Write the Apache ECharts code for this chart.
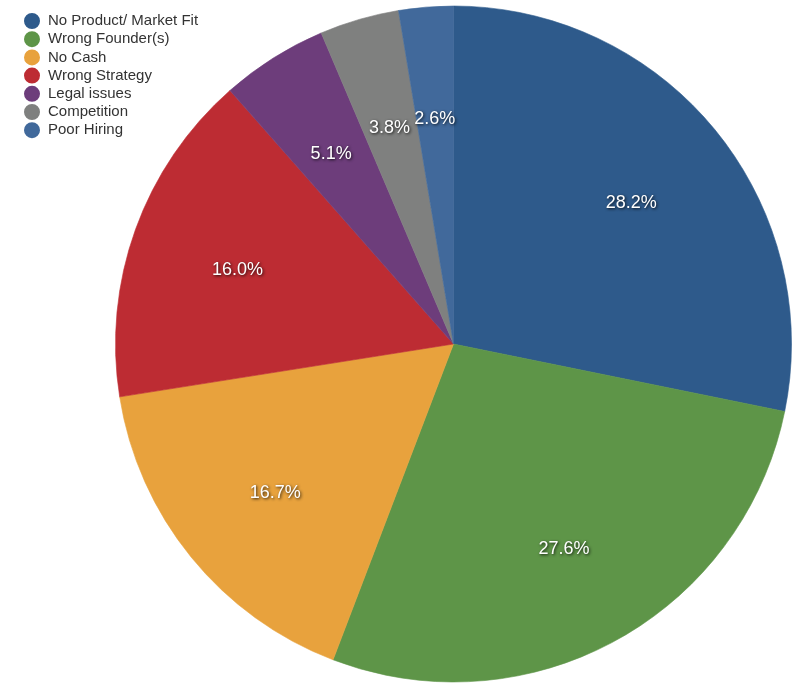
<!DOCTYPE html>
<html>
<head>
<meta charset="utf-8">
<script src="https://cdn.jsdelivr.net/npm/echarts@6/dist/echarts.min.js"></script>
<style>
    html, body { margin: 0; padding: 0; background: #fff; }
    #chart { width: 800px; height: 690px; }
</style>
</head>
<body>
<div id="chart"></div>
<script>
var categories = ["No Product/ Market Fit", "Wrong Founder(s)", "No Cash", "Wrong Strategy", "Legal issues", "Competition", "Poor Hiring"];
var shares = [28.2, 27.6, 16.7, 16.0, 5.1, 3.8, 2.6];
var sliceColors = ["#2e5a8b", "#5e9548", "#e8a23d", "#bd2c33", "#6d3d7b", "#7f807f", "#41699b"];

var myChart = echarts.init(document.getElementById("chart"));

function getData(withBorder){
    var data = [];
    for(var i = 0; i < categories.length; i++){
        var item = { name: categories[i], value: shares[i] };
        if(withBorder){//same-colour border hides the white seams
            item.itemStyle = { borderColor: sliceColors[i], borderWidth: 0.6 };
        }
        data.push(item);
    }
    return data;
}

var option = {
    color: sliceColors,
    animation: false,
    legend: {
        orient: 'vertical',
        left: 19,
        top: 8,
        icon: 'circle',
        itemWidth: 14,
        itemHeight: 14,
        itemGap: 2.2,
        textStyle: {
            color: '#333',
            fontSize: 15,
            padding: [0, 0, 0, 4],
            fontFamily: 'Helvetica, Arial, "Liberation Sans", sans-serif'
        },
        data: categories
    },
    series: [{
        type: 'pie',
        center: [453.5, 344],
        radius: 338,
        startAngle: 90,
        clockwise: true,
        silent: true,
        label: { show: false },
        labelLine: { show: false },
        data: getData(true)
    }, {
        // label ring: labels sit at mid of [r0, r] so they land at ~0.67r
        type: 'pie',
        center: [453.5, 348],
        radius: [115, 338],
        startAngle: 90,
        clockwise: true,
        silent: true,
        itemStyle: { color: 'rgba(0,0,0,0)', borderWidth: 0 },
        label: {
            show: true,
            position: 'inside',
            formatter: function(p){ return p.value.toFixed(1) + '%'; },
            color: '#fff',
            fontSize: 18,
            fontFamily: 'Helvetica, Arial, "Liberation Sans", sans-serif',
            textShadowColor: 'rgba(0,0,0,0.85)',
            textShadowBlur: 3,
            textShadowOffsetX: 1,
            textShadowOffsetY: 1
        },
        labelLine: { show: false },
        data: getData(false)
    }]
};

myChart.setOption(option);
window.onresize = myChart.resize;
</script>
</body>
</html>
